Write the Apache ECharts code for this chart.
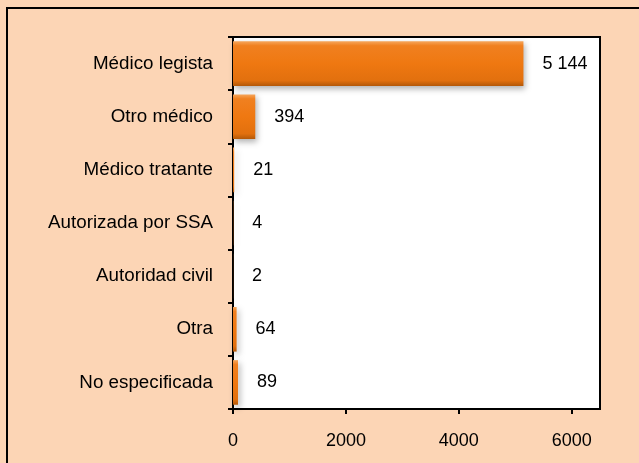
<!DOCTYPE html>
<html>
<head>
<meta charset="utf-8">
<title>Certificante</title>
<script src="https://cdn.jsdelivr.net/npm/echarts@6/dist/echarts.min.js"></script>
<style>
  html, body { margin: 0; padding: 0; background: #fcd5b5; }
  #main { width: 639px; height: 463px; }
</style>
</head>
<body>
<div id="main"></div>
<script>
// categorias (de arriba hacia abajo) y valores
var categorias = ['Médico legista', 'Otro médico', 'Médico tratante', 'Autorizada por SSA', 'Autoridad civil', 'Otra', 'No especificada'];
var valores = [5144, 394, 21, 4, 2, 64, 89];
var ticksX = [0, 2000, 4000, 6000];

function miles(v) {
  // separador de miles con espacio, como en el original
  return String(v).replace(/\B(?=(\d{3})+(?!\d))/g, ' ');
}

var myChart = echarts.init(document.getElementById('main'));
var option = {
  backgroundColor: '#fcd5b5',
  animation: false,
  textStyle: { fontFamily: '"Liberation Sans", Arial, sans-serif' },
  graphic: [{
    type: 'rect',
    z: 100,
    silent: true,
    shape: { x: 7, y: 8, width: 700, height: 520 },
    style: { fill: 'none', stroke: '#000', lineWidth: 2 }
  }],
  grid: {
    left: 233, top: 37, right: 39, bottom: 54,
    show: true,
    backgroundColor: '#fff',
    borderColor: '#000',
    borderWidth: 2
  },
  xAxis: {
    type: 'value',
    min: 0,
    max: 6500,
    splitLine: { show: false },
    axisLine: { show: true, lineStyle: { color: '#000', width: 2 } },
    axisTick: { show: true, length: 5, customValues: ticksX, lineStyle: { color: '#000', width: 2 } },
    axisLabel: {
      customValues: ticksX, color: '#000', fontSize: 18, margin: 23,
      formatter: function (v) { return String(v); }
    }
  },
  yAxis: {
    type: 'category',
    inverse: true,
    data: categorias,
    axisLine: { show: true, lineStyle: { color: '#000', width: 2 } },
    axisTick: { show: true, length: 5, lineStyle: { color: '#000', width: 2 } },
    axisLabel: { color: '#000', fontSize: 18.8, margin: 20 }
  },
  series: [{
    type: 'bar',
    data: valores,
    barCategoryGap: '16%',
    itemStyle: {
      color: new echarts.graphic.LinearGradient(0, 0, 0, 1, [
        { offset: 0, color: '#f6a65c' },
        { offset: 0.1, color: '#f08020' },
        { offset: 0.5, color: '#ef7811' },
        { offset: 0.88, color: '#e2700e' },
        { offset: 1, color: '#b45808' }
      ]),
      shadowColor: 'rgba(0,0,0,0.3)',
      shadowBlur: 6,
      shadowOffsetX: 2,
      shadowOffsetY: 3
    },
    label: {
      show: true,
      position: 'right',
      distance: 19,
      color: '#000',
      fontSize: 18,
      formatter: function (p) { return miles(p.value); }
    }
  }]
};
myChart.setOption(option);
</script>
</body>
</html>
